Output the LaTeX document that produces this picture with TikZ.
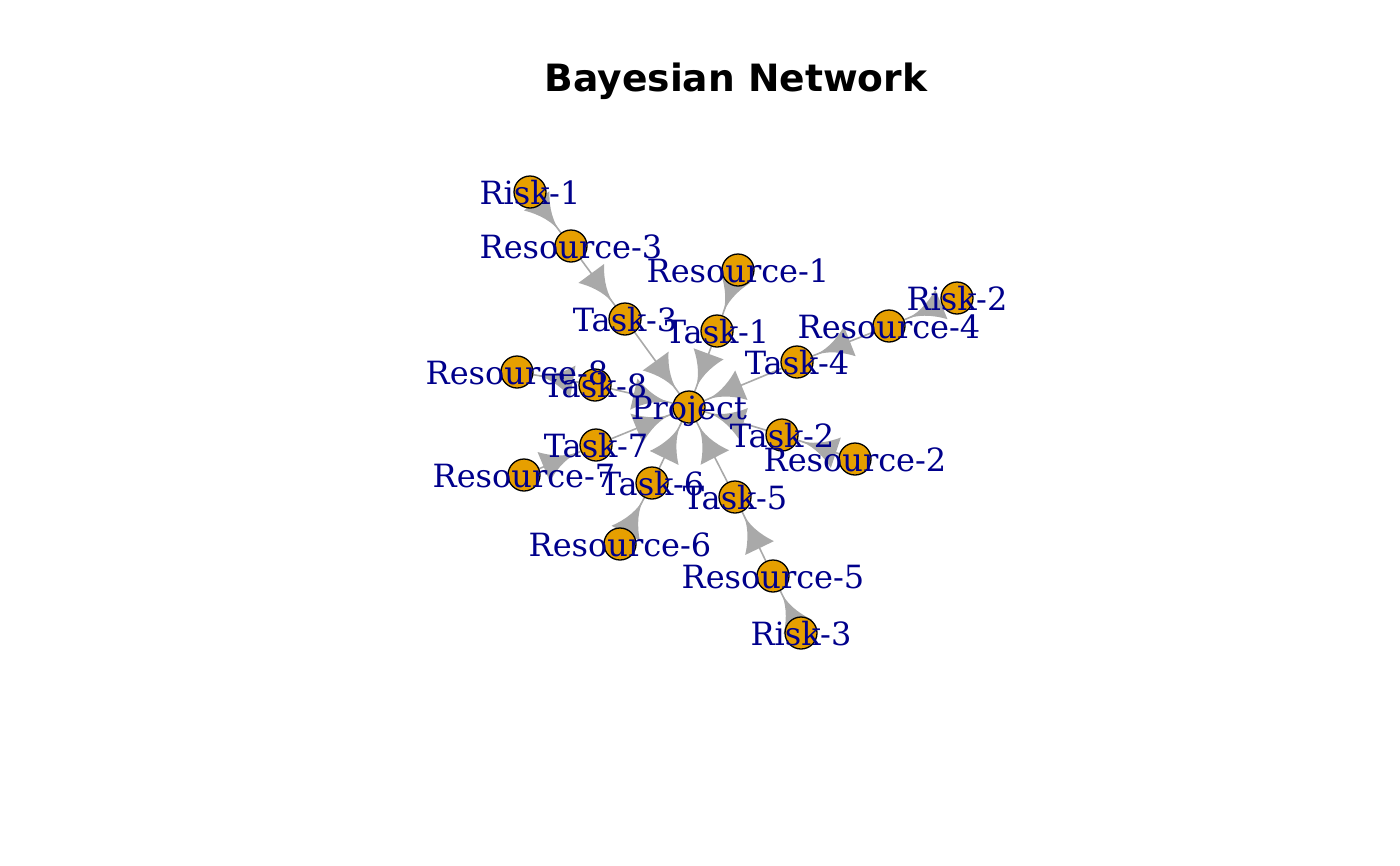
\documentclass[tikz,border=0pt]{standalone}
\usepackage{fontspec}
\setmainfont{DejaVu Serif}
\newfontfamily\titlefont{DejaVu Sans}
\usetikzlibrary{decorations.markings}
\pgfdeclarelayer{bg}
\pgfsetlayers{bg,main}
\definecolor{vfill}{HTML}{E69F00}
\definecolor{edgegray}{HTML}{A9A9A9}
\definecolor{lblblue}{HTML}{00008B}
\tikzset{
  vert/.style={circle,draw=black,fill=vfill,line width=1.3pt,minimum size=32pt,inner sep=0pt},
  lbl/.style={anchor=base,text=lblblue,inner sep=0pt,font=\fontsize{32}{32}\selectfont},
  depedge/.style={draw=edgegray,line width=1.6pt,postaction={decorate},
    decoration={markings,mark=at position 1 with {\fill[edgegray] (0,0) .. controls (-13.3,0) and (-26.7,5.3) .. (-40,16) -- (-40,-16) .. controls (-26.7,-5.3) and (-13.3,0) .. (0,0);}}}
}
\begin{document}
\begin{tikzpicture}[x=1pt,y=-1pt]
	\useasboundingbox (0,0) rectangle (1400,865);
	\node[anchor=base,font=\titlefont\bfseries\fontsize{37.6}{37.6}\selectfont] (title) at (736,91) {Bayesian Network};
	% vertices
	\foreach \n/\x/\y in {p/689/407, t1/717/331, t2/782/435, t3/625/319, t4/797/362, t5/735/497, t6/652/483, t7/596/445, t8/595/385,
		r1/738/270, r2/855/459, r3/571/246, r4/889/326, r5/773/576, r6/620/544, r7/524/475, r8/517/372,
		k1/530/192, k2/957/298, k3/801/633}
		\node[vert] (\n) at (\x,\y) {};
	% edges
	\begin{pgfonlayer}{bg}
	\foreach \a/\b in {t1/p, t2/p, t3/p, t4/p, t5/p, t6/p, t7/p, t8/p,
		r1/t1, r2/t2, r3/t3, r4/t4, r5/t5, r6/t6, r7/t7, t8/r8,
		k1/r3, k2/r4, k3/r5}
		\draw[depedge] (\a) -- (\b);
	\end{pgfonlayer}
	% labels
	\foreach \n/\t in {p/Project, t1/Task-1, t2/Task-2, t3/Task-3, t4/Task-4, t5/Task-5, t6/Task-6, t7/Task-7, t8/Task-8,
		r1/Resource-1, r2/Resource-2, r3/Resource-3, r4/Resource-4, r5/Resource-5, r6/Resource-6, r7/Resource-7, r8/Resource-8,
		k1/Risk-1, k2/Risk-2, k3/Risk-3}
		\node[lbl] (\n-l) at ([yshift=-12pt]\n.center) {\t};
\end{tikzpicture}
\end{document}
